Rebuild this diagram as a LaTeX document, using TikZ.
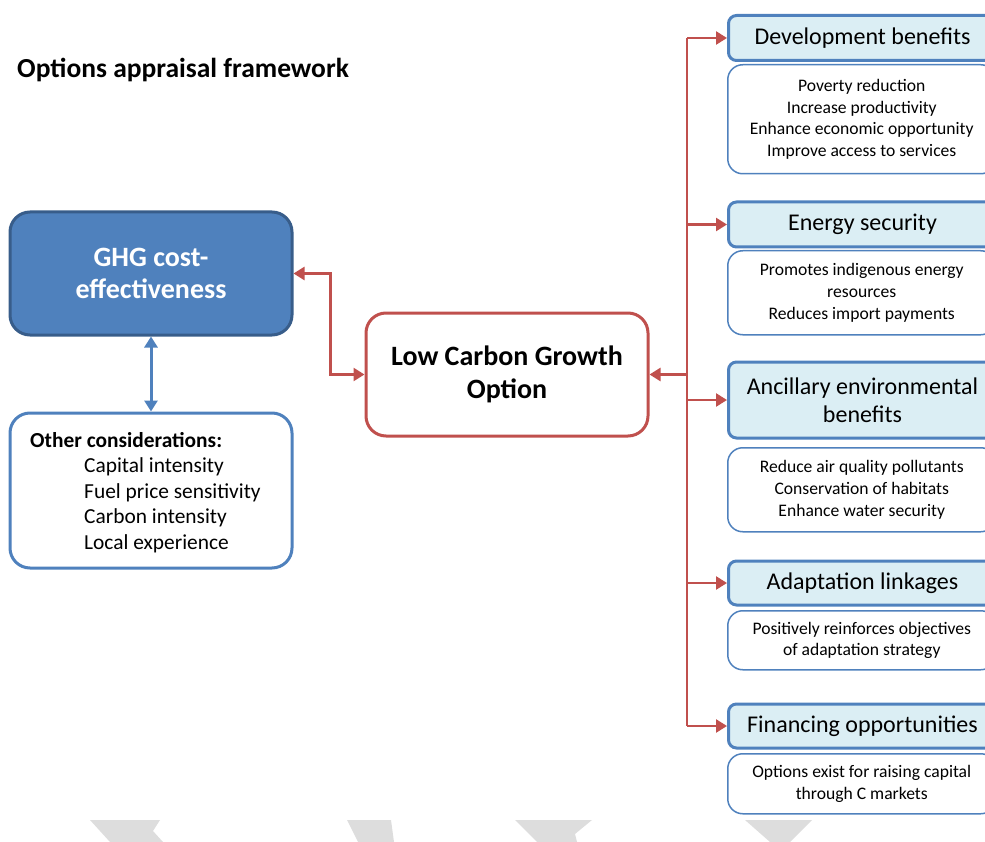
\documentclass[tikz,border=0pt]{standalone}
\usepackage{fontspec}
\setmainfont{Carlito}
\usetikzlibrary{arrows.meta}
\definecolor{cred}{HTML}{C0504D}
\definecolor{cblue}{HTML}{4F81BD}
\definecolor{cdblue}{HTML}{385D8A}
\definecolor{clight}{HTML}{DBEEF4}
\definecolor{cgray}{HTML}{DDDDDD}
\tikzset{
  mainbox/.style={rounded corners=20pt, minimum width=282pt, inner sep=0pt, align=center},
  ghgbox/.style={mainbox, fill=cblue, draw=cdblue, line width=3pt, minimum height=123pt,
    text=white, font=\fontsize{28}{32}\selectfont\bfseries},
  otherbox/.style={mainbox, fill=white, draw=cblue, line width=3pt, minimum height=155pt},
  lcgbox/.style={mainbox, fill=white, draw=cred, line width=3pt, minimum height=123pt,
    font=\fontsize{28}{33}\selectfont\bfseries},
  headbox/.style={rounded corners=8pt, fill=clight, draw=cblue, line width=3pt,
    minimum width=268pt, inner sep=0pt, align=center, font=\fontsize{24}{28}\selectfont},
  bodybox/.style={rounded corners=15pt, fill=white, draw=cblue, line width=1.5pt,
    minimum width=268pt, inner sep=0pt, align=center, font=\fontsize{17.6}{21.7}\selectfont},
  redline/.style={draw=cred, line width=2.5pt},
  redtip/.style={-{Triangle[length=11pt,width=13pt]}},
  bluelink/.style={draw=cblue, line width=3pt, {Triangle[length=11pt,width=13pt]}-{Triangle[length=11pt,width=13pt]}},
  ribbon/.style={fill=cgray, draw=none},
}
\begin{document}
\begin{tikzpicture}[x=1pt, y=-1pt]
\useasboundingbox (0,0) rectangle (985,842);
\clip (0,0) rectangle (985,842);

% title
\node[anchor=west, inner sep=0pt, font=\fontsize{27.5}{30}\selectfont\bfseries] (title) at (17,70) {Options appraisal framework};

% left column
\node[ghgbox] (ghg) at (151,273.5) {GHG cost-\\effectiveness};
\node[otherbox] (other) at (151,490.5) {};
\node[anchor=north west, inner sep=0pt, align=left, font=\fontsize{21.4}{25.5}\selectfont] (otherlist) at (30,432)
  {\textbf{Other considerations:}\\
   \hspace*{54pt}Capital intensity\\
   \hspace*{54pt}Fuel price sensitivity\\
   \hspace*{54pt}Carbon intensity\\
   \hspace*{54pt}Local experience};

% central option
\node[lcgbox] (lcg) at (507,374.5) {Low Carbon Growth\\Option};

% right column: headers and their bodies
\node[headbox, anchor=west, minimum height=45pt] (dev) at (727,38) {Development benefits};
\node[bodybox, anchor=north west, minimum height=109pt] (devb) at (727,64)
  {Poverty reduction\\Increase productivity\\Enhance economic opportunity\\Improve access to services};

\node[headbox, anchor=west, minimum height=45pt] (ens) at (727,224.5) {Energy security};
\node[bodybox, anchor=north west, minimum height=84pt] (ensb) at (727,250)
  {Promotes indigenous energy\\resources\\Reduces import payments};

\node[headbox, anchor=west, minimum height=76pt] (anc) at (727,400) {Ancillary environmental\\benefits};
\node[bodybox, anchor=north west, minimum height=84pt] (ancb) at (727,447)
  {Reduce air quality pollutants\\Conservation of habitats\\Enhance water security};

\node[headbox, anchor=west, minimum height=44pt] (ada) at (727,583) {Adaptation linkages};
\node[bodybox, anchor=north west, minimum height=59pt] (adab) at (727,610)
  {Positively reinforces objectives\\of adaptation strategy};

\node[headbox, anchor=west, minimum height=44pt] (fin) at (727,726) {Financing opportunities};
\node[bodybox, anchor=north west, minimum height=60pt] (finb) at (727,753)
  {Options exist for raising capital\\through C markets};

% connectors
\coordinate (ttop) at (687,38);
\coordinate (tbot) at (687,726);
\draw[redline] (ttop) -- (tbot);
\draw[redline, redtip] (ttop) -- (dev.west);
\draw[redline, redtip] (687,224.5) -- (ens.west);
\draw[redline, redtip] (687,400) -- (anc.west);
\draw[redline, redtip] (687,583) -- (ada.west);
\draw[redline, redtip] (tbot) -- (fin.west);
\draw[redline, redtip] (687,374.5) -- (lcg.east);
\draw[redline, {Triangle[length=11pt,width=13pt]}-{Triangle[length=11pt,width=13pt]}]
  (ghg.east) -- ++(37,0) |- (lcg.west);
\draw[bluelink] (ghg.south) -- (other.north);

% grey chevrons along the bottom edge
\fill[ribbon] (90,820) -- (160,820) -- (153,831) -- (163,842) -- (110,842) -- cycle;
\fill[ribbon] (347,820) -- (391,820) -- (394,842) -- (358,842) -- cycle;
\fill[ribbon] (515,820) -- (592,820) -- (575,834) -- (577,842) -- (537,842) -- cycle;
\fill[ribbon] (745,820) -- (812,820) -- (790,842) -- (770,842) -- cycle;
\end{tikzpicture}
\end{document}
